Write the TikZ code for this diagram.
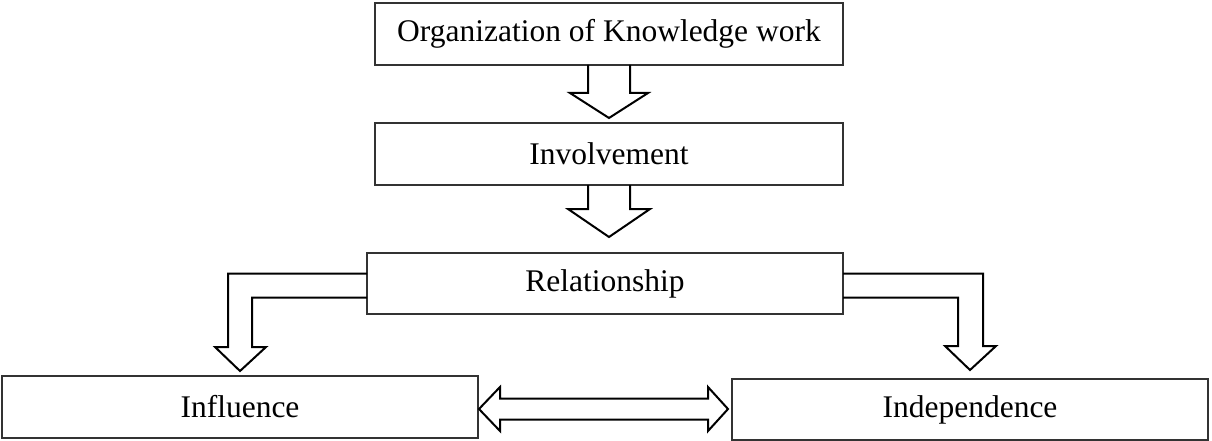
\documentclass[tikz,border=0pt]{standalone}
\usepackage{fontspec}
\setmainfont{Liberation Serif}
\usepackage{xcolor}
\definecolor{boxLine}{HTML}{333333}
\usetikzlibrary{positioning,calc}
\tikzset{
    stage/.style={
        draw=boxLine,
        fill=white,
        rectangle,
        line width=1.3pt,
        outer sep=0pt,
        inner sep=0pt,
        align=center,
        minimum height=62pt,
        minimum width=468pt,
        font=\fontsize{31.5}{36}\selectfont
    },
    blockarrow/.style={
        draw=black,
        line width=2pt,
        line join=miter
    }
}

\begin{document}
\begin{tikzpicture}[x=1pt,y=-1pt]
    \useasboundingbox (0,0) rectangle (1212,441);

    % Stages
    \node[stage] (org) at (609,34) {Organization of Knowledge work};
    \node[stage, below=58pt of org] (inv) {Involvement};
    \node[stage, below=68pt of inv, xshift=-4pt, minimum width=476pt, minimum height=61pt] (rel) {Relationship};
    \node[stage, below=62pt of rel, xshift=-365pt, minimum width=476pt] (infl) {Influence};
    \node[stage, right=254pt of infl, yshift=-2.5pt, minimum width=476pt, minimum height=61pt] (indep) {Independence};

    % Block arrows down
    \draw[blockarrow] ($(org.south)+(-21,0)$) -- ++(0,28) -- ++(-18,0)
        -- ($(inv.north)+(0,-5)$) -- ($(org.south)+(39,28)$) -- ++(-18,0) -- ++(0,-28);
    \draw[blockarrow] ($(inv.south)+(-21,0)$) -- ++(0,24) -- ++(-20,0)
        -- ($(inv.south)+(0,52)$) -- ($(inv.south)+(41,24)$) -- ++(-20,0) -- ++(0,-24);

    % Elbow arrows
    \draw[blockarrow] ($(rel.west)+(0,-10)$) -| ($(infl.north)+(-12,-29)$) -- ++(-13,0)
        -- ($(infl.north)+(0,-5)$) -- ($(infl.north)+(26,-29)$) -- ++(-14,0) |- ($(rel.west)+(0,14)$);
    \draw[blockarrow] ($(rel.east)+(0,-10)$) -| ($(indep.north)+(13,-33)$) -- ++(13,0)
        -- ($(indep.north)+(0,-9)$) -- ($(indep.north)+(-25,-33)$) -- ++(13,0) |- ($(rel.east)+(0,14)$);

    % Double arrow
    \coordinate (lt) at ($(infl.east)+(1,2)$);
    \coordinate (rt) at ($(lt)+(249,0)$);
    \draw[blockarrow] (lt) -- ++(21,-22) -- ++(0,11.5) -- ($(rt)+(-20,-10.5)$) -- ++(0,-11.5)
        -- (rt) -- ++(-20,22) -- ++(0,-11.5) -- ($(lt)+(21,10.5)$) -- ++(0,11.5) -- cycle;
\end{tikzpicture}
\end{document}
